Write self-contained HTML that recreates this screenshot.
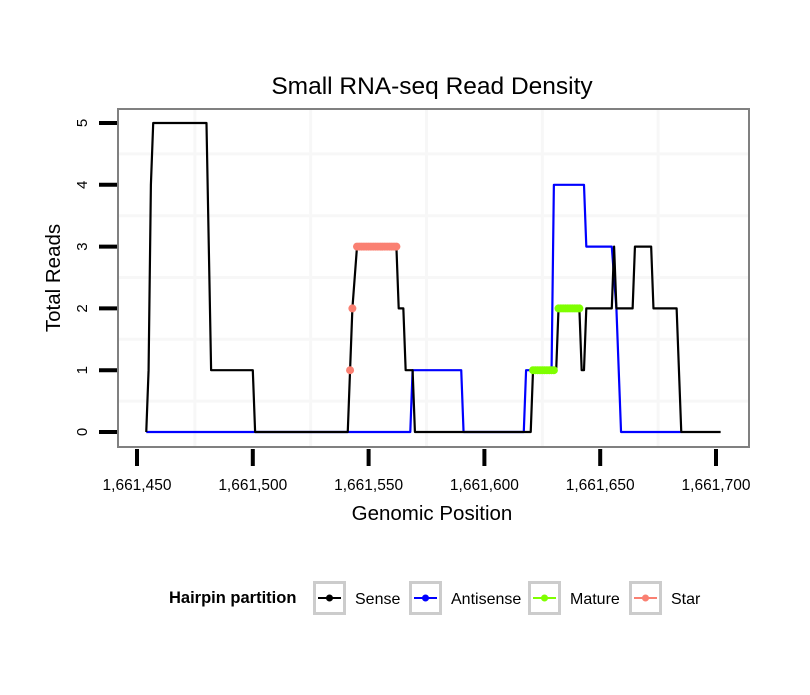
<!DOCTYPE html>
<html><head><meta charset="utf-8"><style>
body{margin:0;background:#fff;}
svg text{font-family:"Liberation Sans",sans-serif;}
</style></head><body>
<svg id="chart" width="810" height="690" xmlns="http://www.w3.org/2000/svg">
<rect x="0" y="0" width="810" height="690" fill="#fff"/>
<text x="432" y="94" font-size="24.5" text-anchor="middle">Small RNA-seq Read Density</text>
<g id="grid"></g>
<g id="series"></g>
<rect x="118" y="109" width="631" height="338" fill="none" stroke="#808080" stroke-width="2"/>
<g id="axes"></g>
<text x="432" y="520" font-size="20.5" text-anchor="middle">Genomic Position</text>
<text transform="translate(60,278) rotate(-90)" font-size="20.5" text-anchor="middle">Total Reads</text>
<g>
<text x="169" y="603" font-size="16.5" font-weight="bold">Hairpin partition</text>
<g id="legend"></g>
</g>
</svg>
<script>
const xTicks=[1661450,1661500,1661550,1661600,1661650,1661700];
const xTickLabels=["1,661,450","1,661,500","1,661,550","1,661,600","1,661,650","1,661,700"];
const yTicks=[0,1,2,3,4,5];
const senseX=[1661454,1661455,1661456,1661457,1661480,1661481,1661482,1661500,1661501,1661541,1661542,1661543,1661545,1661562,1661563,1661565,1661566,1661569,1661570,1661620,1661621,1661631,1661632,1661641,1661642,1661643,1661644,1661655,1661656,1661657,1661664,1661665,1661672,1661673,1661683,1661685,1661702];
const senseY=[0,1,4,5,5,3,1,1,0,0,1,2,3,3,2,2,1,1,0,0,1,1,2,2,1,1,2,2,3,2,2,3,3,2,2,0,0];
const antiX=[1661454,1661568,1661569,1661590,1661591,1661617,1661618,1661629,1661630,1661643,1661644,1661655,1661657,1661659,1661685];
const antiY=[0,0,1,1,0,0,1,1,4,4,3,3,2,0,0];
const matureX=[1661621,1661622,1661623,1661624,1661625,1661626,1661627,1661628,1661629,1661630,1661632,1661633,1661634,1661635,1661636,1661637,1661638,1661639,1661640,1661641];
const matureY=[1,1,1,1,1,1,1,1,1,1,2,2,2,2,2,2,2,2,2,2];
const starX=[1661542,1661543,1661545,1661546,1661547,1661548,1661549,1661550,1661551,1661552,1661553,1661554,1661555,1661556,1661557,1661558,1661559,1661560,1661561,1661562];
const starY=[1,2,3,3,3,3,3,3,3,3,3,3,3,3,3,3,3,3,3,3];
const legendNames=["Sense","Antisense","Mature","Star"];
const legendColors=["#000000","#0000ff","#7fff00","#fa8072"];

const NS="http://www.w3.org/2000/svg";
function sx(v){return 137+(v-1661450)*(716-137)/250;}
function sy(v){return 432-v*(432-123)/5;}
function mk(tag,attrs,parent){const e=document.createElementNS(NS,tag);for(const k in attrs)e.setAttribute(k,attrs[k]);parent.appendChild(e);return e;}
const grid=document.getElementById('grid'),axes=document.getElementById('axes'),series=document.getElementById('series'),legend=document.getElementById('legend');
for(let v=1661475;v<1661725;v+=50){const l=mk('line',{x1:sx(v),x2:sx(v),y1:110,y2:446,stroke:'#f7f7f7','stroke-width':3},grid);

}
for(let v=0.5;v<5;v+=1){const l=mk('line',{x1:119,x2:748,y1:sy(v),y2:sy(v),stroke:'#f7f7f7','stroke-width':3},grid);

}
xTicks.forEach((v,i)=>{const t=mk('line',{x1:sx(v),x2:sx(v),y1:449,y2:466,stroke:'#000','stroke-width':4},axes);


const tx=mk('text',{x:sx(v),y:490,'font-size':15.5,'text-anchor':'middle'},axes);tx.textContent=xTickLabels[i];

});
yTicks.forEach(v=>{const t=mk('line',{x1:99,x2:117,y1:sy(v),y2:sy(v),stroke:'#000','stroke-width':4},axes);


const tx=mk('text',{transform:`translate(87,${sy(v)}) rotate(-90)`,'font-size':15,'text-anchor':'middle'},axes);tx.textContent=v;

});
function line(xs,ys,color,name){const p=mk('polyline',{points:xs.map((x,i)=>sx(x)+','+sy(ys[i])).join(' '),fill:'none',stroke:color,'stroke-width':2.2,'stroke-linejoin':'round'},series);

}
function pts(xs,ys,color,name){xs.forEach((x,i)=>{const c=mk('circle',{cx:sx(x),cy:sy(ys[i]),r:4,fill:color},series);

});}
line(antiX,antiY,'#0000ff','antisense-line');
line(senseX,senseY,'#000000','sense-line');
pts(starX,starY,'#fa8072','star-point');
pts(matureX,matureY,'#7fff00','mature-point');
const boxX=[313,409,528,629];
legendNames.forEach((n,i)=>{const g=mk('g',{},legend);


const x=boxX[i];mk('rect',{x:x+1.5,y:582.5,width:30,height:31,fill:'#fff',stroke:'#cccccc','stroke-width':3},g);
mk('line',{x1:x+5,x2:x+28,y1:598,y2:598,stroke:legendColors[i],'stroke-width':2},g);
mk('circle',{cx:x+16.5,cy:598,r:3.5,fill:legendColors[i]},g);
const t=mk('text',{x:x+42,y:604,'font-size':16},g);t.textContent=n;});
</script>
</body></html>
